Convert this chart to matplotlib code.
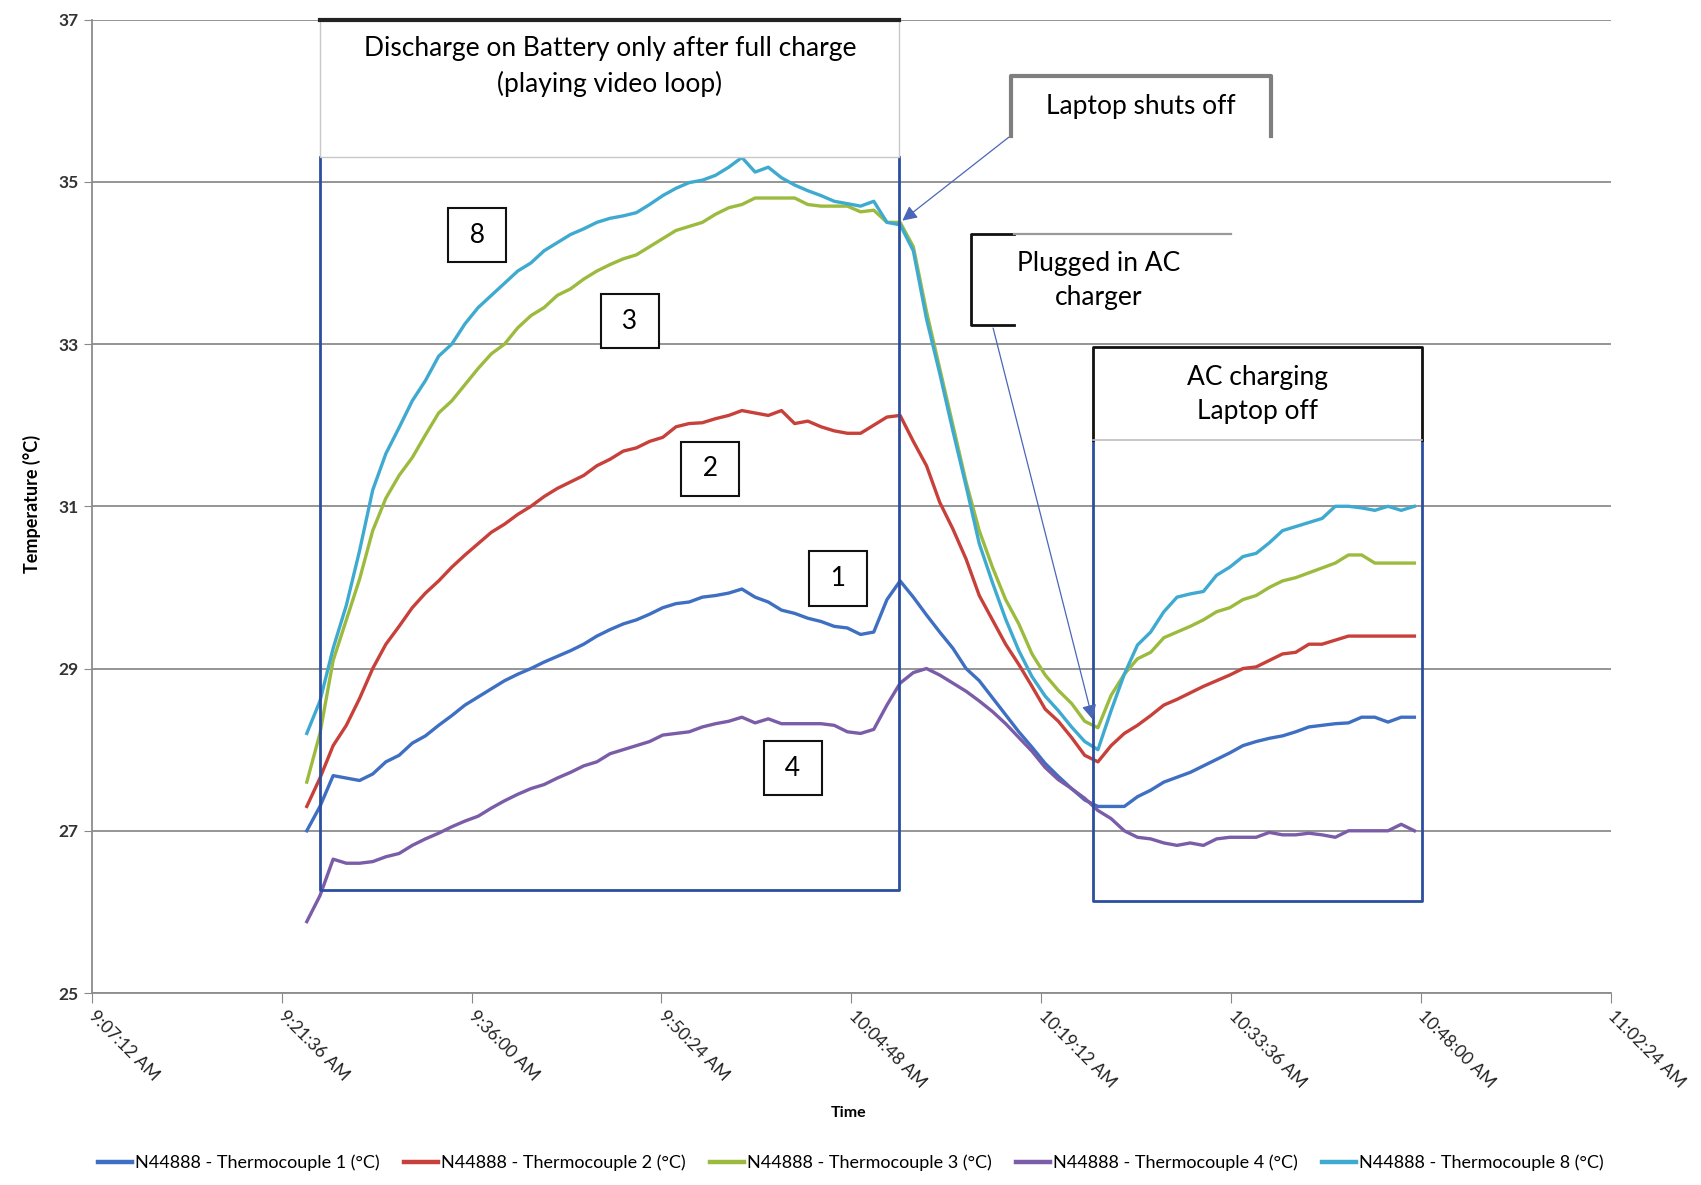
import pandas as pd
import matplotlib
matplotlib.use("Agg")
import matplotlib.pyplot as plt
import matplotlib.dates as mdates
from matplotlib.patches import Rectangle

plt.rcParams['font.family'] = ['Lato', 'DejaVu Sans']

# one reading per minute, first one at 9:23:30
times = pd.date_range("2000-01-01 09:23:30", periods=85, freq="1min")

tc1 = [27.0, 27.3, 27.68, 27.65, 27.62, 27.7, 27.85, 27.93, 28.08, 28.17, 28.3, 28.42,
       28.55, 28.65, 28.75, 28.85, 28.93, 29.0, 29.08, 29.15, 29.22, 29.3, 29.4, 29.48,
       29.55, 29.6, 29.67, 29.75, 29.8, 29.82, 29.88, 29.9, 29.93, 29.98, 29.88, 29.82,
       29.72, 29.68, 29.62, 29.58, 29.52, 29.5, 29.42, 29.45, 29.85,
       30.08, 29.88, 29.66, 29.45, 29.25, 29.0, 28.85, 28.64, 28.43, 28.22, 28.03, 27.83,
       27.67, 27.52, 27.38, 27.3, 27.3, 27.3, 27.42,
       27.5, 27.6, 27.66, 27.72, 27.8, 27.88, 27.96, 28.05, 28.1, 28.14, 28.17, 28.22,
       28.28, 28.3, 28.32, 28.33, 28.4, 28.4, 28.34, 28.4, 28.4]
tc2 = [27.3, 27.65, 28.05, 28.3, 28.63, 29.0, 29.3, 29.52, 29.75, 29.93, 30.08, 30.25,
       30.4, 30.54, 30.68, 30.78, 30.9, 31.0, 31.12, 31.22, 31.3, 31.38, 31.5, 31.58,
       31.68, 31.72, 31.8, 31.85, 31.98, 32.02, 32.03, 32.08, 32.12, 32.18, 32.15, 32.12,
       32.18, 32.02, 32.05, 31.98, 31.93, 31.9, 31.9, 32.0, 32.1,
       32.12, 31.8, 31.5, 31.05, 30.72, 30.35, 29.9, 29.6, 29.3, 29.05, 28.78, 28.5,
       28.35, 28.15, 27.93, 27.85, 28.05, 28.2, 28.3,
       28.42, 28.55, 28.62, 28.7, 28.78, 28.85, 28.92, 29.0, 29.02, 29.1, 29.18, 29.2,
       29.3, 29.3, 29.35, 29.4, 29.4, 29.4, 29.4, 29.4, 29.4]
tc3 = [27.6, 28.2, 29.1, 29.6, 30.1, 30.7, 31.1, 31.38, 31.6, 31.88, 32.15, 32.3,
       32.5, 32.7, 32.88, 33.0, 33.2, 33.35, 33.45, 33.6, 33.68, 33.8, 33.9, 33.98,
       34.05, 34.1, 34.2, 34.3, 34.4, 34.45, 34.5, 34.6, 34.68, 34.72, 34.8, 34.8,
       34.8, 34.8, 34.72, 34.7, 34.7, 34.7, 34.63, 34.65, 34.5,
       34.5, 34.2, 33.4, 32.7, 32.0, 31.3, 30.7, 30.25, 29.85, 29.55, 29.18, 28.92,
       28.73, 28.57, 28.35, 28.27, 28.67, 28.93, 29.12,
       29.2, 29.38, 29.45, 29.52, 29.6, 29.7, 29.75, 29.85, 29.9, 30.0, 30.08, 30.12,
       30.18, 30.24, 30.3, 30.4, 30.4, 30.3, 30.3, 30.3, 30.3]
tc4 = [25.88, 26.2, 26.65, 26.6, 26.6, 26.62, 26.68, 26.72, 26.82, 26.9, 26.97, 27.05,
       27.12, 27.18, 27.28, 27.37, 27.45, 27.52, 27.57, 27.65, 27.72, 27.8, 27.85, 27.95,
       28.0, 28.05, 28.1, 28.18, 28.2, 28.22, 28.28, 28.32, 28.35, 28.4, 28.33, 28.38,
       28.32, 28.32, 28.32, 28.32, 28.3, 28.22, 28.2, 28.25, 28.55,
       28.82, 28.95, 29.0, 28.92, 28.82, 28.72, 28.6, 28.47, 28.32, 28.15, 27.98, 27.78,
       27.63, 27.52, 27.4, 27.25, 27.15, 27.0, 26.92,
       26.9, 26.85, 26.82, 26.85, 26.82, 26.9, 26.92, 26.92, 26.92, 26.98, 26.95, 26.95,
       26.97, 26.95, 26.92, 27.0, 27.0, 27.0, 27.0, 27.08, 27.0]
tc8 = [28.2, 28.6, 29.25, 29.78, 30.45, 31.2, 31.65, 31.97, 32.3, 32.55, 32.85, 33.0,
       33.25, 33.45, 33.6, 33.75, 33.9, 34.0, 34.15, 34.25, 34.35, 34.42, 34.5, 34.55,
       34.58, 34.62, 34.72, 34.83, 34.92, 34.99, 35.02, 35.08, 35.18, 35.3, 35.12, 35.18,
       35.05, 34.96, 34.89, 34.83, 34.76, 34.73, 34.7, 34.76, 34.5,
       34.47, 34.15, 33.31, 32.64, 31.93, 31.25, 30.54, 30.06, 29.61, 29.22, 28.9, 28.66,
       28.48, 28.28, 28.1, 28.0, 28.48, 28.93, 29.29,
       29.45, 29.7, 29.88, 29.92, 29.95, 30.15, 30.25, 30.38, 30.42, 30.55, 30.7, 30.75,
       30.8, 30.85, 31.0, 31.0, 30.98, 30.95, 31.0, 30.95, 31.0]

names = ["N44888 - Thermocouple 1 (°C)", "N44888 - Thermocouple 2 (°C)",
         "N44888 - Thermocouple 3 (°C)", "N44888 - Thermocouple 4 (°C)",
         "N44888 - Thermocouple 8 (°C)"]
colors = ["#3F6FC2", "#C8403A", "#9CBB3E", "#7A5CA8", "#3FAAD0"]

tick_labels = ["9:07:12 AM", "9:21:36 AM", "9:36:00 AM", "9:50:24 AM", "10:04:48 AM",
               "10:19:12 AM", "10:33:36 AM", "10:48:00 AM", "11:02:24 AM"]
ticks = pd.to_datetime(["2000-01-01 " + s for s in tick_labels], format="%Y-%m-%d %I:%M:%S %p")


def T(s):
    return pd.Timestamp("2000-01-01 " + s)


def N(s):
    return mdates.date2num(T(s))


fig = plt.figure(figsize=(17.01, 11.85), dpi=100)
ax = fig.add_axes([0.054, 0.162, 0.893, 0.8215])

handles = []
for name, vals, c in zip(names, [tc1, tc2, tc3, tc4, tc8], colors):
    h, = ax.plot(times, vals, color=c, lw=2.4, label=name, zorder=3)
    handles.append(h)

ax.set_xlim(ticks[0], ticks[-1])
ax.set_ylim(25, 37)
ax.set_yticks([25, 27, 29, 31, 33, 35, 37])
ax.set_xticks(ticks)
ax.set_xticklabels(tick_labels, rotation=-45, ha="left", va="center",
                   rotation_mode="anchor", fontsize=12.5, color="#222222")
ax.tick_params(axis="x", length=7, color="#888888", pad=8)
ax.tick_params(axis="y", length=6, color="#888888", labelsize=12.5, labelcolor="#333333")
for lab in ax.get_yticklabels():
    lab.set_fontweight("bold")
ax.yaxis.grid(True, color="#8C8C8C", lw=1.3)
ax.set_axisbelow(True)
for s in ["top", "right"]:
    ax.spines[s].set_visible(False)
for s in ["left", "bottom"]:
    ax.spines[s].set_color("#8C8C8C")
    ax.spines[s].set_linewidth(1.3)

blue = "#2D4E9E"
fs = 19

# discharge box
ax.plot([T("09:24:29"), T("09:24:29"), T("10:08:25"), T("10:08:25")],
        [35.3, 26.27, 26.27, 35.3], color=blue, lw=2, zorder=4)
ax.add_patch(Rectangle((N("09:24:29"), 35.3), N("10:08:25") - N("09:24:29"), 1.7,
                       fc="white", ec="#C8C8C8", lw=1, zorder=5, clip_on=False))
ax.plot([T("09:24:29"), T("10:08:25")], [37, 37], color="#222222", lw=3, zorder=6, clip_on=False)
ax.text(T("09:46:30"), 36.42, "Discharge on Battery only after full charge\n(playing video loop)",
        ha="center", va="center", fontsize=fs, linespacing=1.45, zorder=7)

# laptop shuts off
ax.add_patch(Rectangle((N("10:16:54"), 35.57), N("10:36:39") - N("10:16:54"), 0.73,
                       fc="white", ec="none", zorder=5))
ax.plot([T("10:16:54"), T("10:16:54"), T("10:36:39"), T("10:36:39")],
        [35.57, 36.3, 36.3, 35.57], color="#7F7F7F", lw=3, zorder=6)
ax.text(T("10:26:46"), 35.93, "Laptop shuts off", ha="center", va="center", fontsize=fs, zorder=7)
ax.annotate("", xy=(T("10:08:30"), 34.5), xytext=(T("10:16:54"), 35.57),
            arrowprops=dict(arrowstyle="-|>", color="#4A66B8", lw=0.9, mutation_scale=22),
            zorder=6)

# plugged in AC charger
ax.add_patch(Rectangle((N("10:13:51"), 33.23), N("10:33:36") - N("10:13:51"), 1.13,
                       fc="white", ec="none", zorder=5))
ax.plot([T("10:17:08"), T("10:13:51"), T("10:13:51"), T("10:17:08")],
        [34.36, 34.36, 33.23, 33.23], color="#111111", lw=2, zorder=6)
ax.plot([T("10:17:08"), T("10:33:36")], [34.36, 34.36], color="#9A9A9A", lw=1.6, zorder=6)
ax.text(T("10:23:34"), 33.78, "Plugged in AC\ncharger", ha="center", va="center",
        fontsize=fs, linespacing=1.45, zorder=7)
ax.annotate("", xy=(T("10:23:09"), 28.34), xytext=(T("10:15:30"), 33.23),
            arrowprops=dict(arrowstyle="-|>", color="#4A66B8", lw=0.9, mutation_scale=22),
            zorder=6)

# AC charging box
ax.plot([T("10:23:09"), T("10:23:09"), T("10:48:05"), T("10:48:05")],
        [31.82, 26.14, 26.14, 31.82], color=blue, lw=2, zorder=4)
ax.add_patch(Rectangle((N("10:23:09"), 31.82), N("10:48:05") - N("10:23:09"), 1.14,
                       fc="white", ec="none", zorder=5))
ax.plot([T("10:23:09"), T("10:23:09"), T("10:48:05"), T("10:48:05")],
        [31.82, 32.96, 32.96, 31.82], color="#111111", lw=2, zorder=6)
ax.plot([T("10:23:09"), T("10:48:05")], [31.82, 31.82], color="#BDBDBD", lw=1.2, zorder=6)
ax.text(T("10:35:34"), 32.38, "AC charging\nLaptop off", ha="center", va="center",
        fontsize=fs, linespacing=1.45, zorder=7)

# thermocouple number tags
tags = [("8", "09:36:24", 34.34), ("3", "09:48:00", 33.28), ("2", "09:54:06", 31.46),
        ("1", "10:03:48", 30.11), ("4", "10:00:21", 27.77)]
for lab, tm, v in tags:
    ax.text(T(tm), v, " " + lab + " ", ha="center", va="center", fontsize=fs, zorder=7,
            bbox=dict(boxstyle="square,pad=0.55", fc="white", ec="#111111", lw=1.5))

fig.text(0.499, 0.0608, "Time", ha="center", va="center", fontsize=11.5, fontweight="bold")
fig.text(0.0188, 0.5747, "Temperature (°C)", ha="center", va="center", rotation=90,
         fontsize=13, fontweight="bold")

leg = fig.legend(handles=handles, loc="center", bbox_to_anchor=(0.5, 0.0186), ncol=5,
                 frameon=False, fontsize=13, handlelength=1.9, handletextpad=0.15,
                 columnspacing=1.35)
for line in leg.get_lines():
    line.set_linewidth(3.2)

fig.savefig("out.png", dpi=100, facecolor="white")
